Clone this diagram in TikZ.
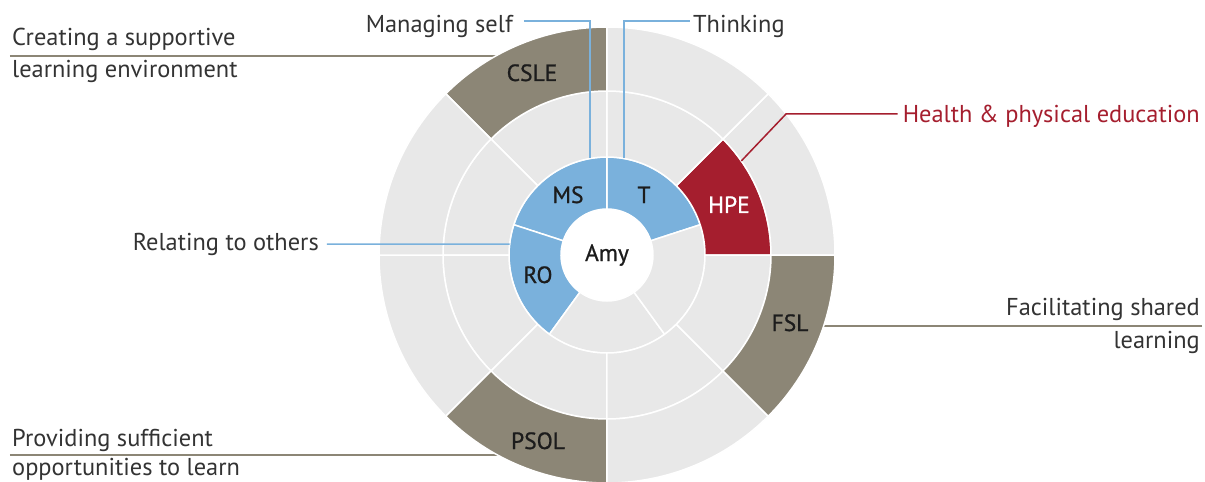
\documentclass[tikz,border=0pt]{standalone}
\usepackage{fontspec}
\setmainfont{PT Sans}
\newfontfamily\segfont{PT Sans}[FakeBold=0.8]

\definecolor{segblue}{RGB}{122,177,220}
\definecolor{seggray}{RGB}{232,232,232}
\definecolor{segtaupe}{RGB}{140,134,118}
\definecolor{segred}{RGB}{165,30,46}
\definecolor{inktext}{RGB}{51,51,51}
\definecolor{inklabel}{RGB}{28,28,28}

\tikzset{
  gapline/.style={draw=white, line width=1.5pt},
  caption/.style={font=\fontsize{24.4}{28}\selectfont, text=inktext, inner sep=0pt},
  seglabel/.style={font=\segfont\fontsize{23.5}{28}\selectfont, text=inklabel, inner sep=0pt, anchor=base},
  taupeline/.style={draw=segtaupe, line width=2pt},
  blueline/.style={draw=segblue, line width=1.5pt},
  redline/.style={draw=segred, line width=1.5pt},
}

% annular sector: start angle, end angle, inner radius, outer radius, fill colour
\newcommand{\ringpart}[5]{%
  \filldraw[fill=#5, gapline] (#1:#3) arc[start angle=#1, end angle=#2, radius=#3]
    -- (#2:#4) arc[start angle=#2, end angle=#1, radius=#4] -- cycle;}

\begin{document}
\begin{tikzpicture}[x=1pt, y=1pt]
\useasboundingbox (-607,-227) rectangle (598,255);

% caption texts
\node[caption, anchor=base east] (msname) at (-94,222) {Managing self};
\node[caption, anchor=base west] (thname) at (86,222) {Thinking};
\node[caption, anchor=base east] (roname) at (-288,5) {Relating to others};
\node[caption, anchor=base east, text=segred] (hpename) at (593,132) {Health \& physical education};
\node[caption, anchor=base west] (cs1) at (-595,209) {Creating a supportive};
\node[caption, anchor=base west] (cs2) at (-595,177) {learning environment};
\node[caption, anchor=base east] (fs1) at (593,-60) {Facilitating shared};
\node[caption, anchor=base east] (fs2) at (593,-93) {learning};
\node[caption, anchor=base west] (ps1) at (-595,-191) {Providing sufficient};
\node[caption, anchor=base west] (ps2) at (-595,-220.5) {opportunities to learn};

% anchor points on the rings
\coordinate (csleIn) at (-80,199);
\coordinate (fslIn) at (200,-71);
\coordinate (psolIn) at (-90,-200);
\coordinate (msTop) at (100:98);
\coordinate (tTop) at (80:98);
\coordinate (roEdge) at (173.6:98);
\coordinate (hpeEdge) at (35:164);
\coordinate (hpeKnee) at (179,141);

% leaders that run under the outer ring
\draw[taupeline] ([xshift=-2pt,yshift=-10pt]cs1.base west) -- (csleIn);
\draw[taupeline] ([xshift=2pt,yshift=-11pt]fs1.base east) -- (fslIn);
\draw[taupeline] ([xshift=-2pt,yshift=-9pt]ps1.base west) -- (psolIn);

% inner ring: key competencies
\ringpart{18}{90}{46}{98}{segblue}
\ringpart{90}{162}{46}{98}{segblue}
\ringpart{162}{234}{46}{98}{segblue}
\ringpart{234}{306}{46}{98}{seggray}
\ringpart{306}{378}{46}{98}{seggray}

% middle ring: learning areas
\ringpart{0}{45}{98}{164}{segred}
\foreach \a in {45,90,...,315} {\ringpart{\a}{\a+45}{98}{164}{seggray}}

% outer ring: teaching practices
\foreach \a in {0,45,180,270} {\ringpart{\a}{\a+45}{164}{228}{seggray}}
\ringpart{90}{135}{164}{228}{segtaupe}
\ringpart{135}{180}{164}{228}{seggray}
\ringpart{225}{270}{164}{228}{segtaupe}
\ringpart{315}{360}{164}{228}{segtaupe}

% leaders drawn over the rings
\draw[blueline] ([xshift=11pt,yshift=12pt]msname.base east) -| (msTop);
\draw[blueline] ([xshift=-3pt,yshift=12pt]thname.base west) -| (tTop);
\draw[blueline] ([xshift=8pt,yshift=6pt]roname.base east) -- (roEdge);
\path (hpeKnee -| hpename.west) coordinate (hpeTail);
\draw[redline] (hpeEdge) -- (hpeKnee) -- ([xshift=-5pt]hpeTail);

% segment labels
\node[seglabel] (ms) at (-39,52) {MS};
\node[seglabel] (t) at (37,52) {T};
\node[seglabel, text=white] (hpe) at (122,42) {HPE};
\node[seglabel] (ro) at (-69,-28) {RO};
\node[seglabel] (amy) at (0,-6) {Amy};
\node[seglabel] (csle) at (-75,174) {CSLE};
\node[seglabel] (fsl) at (183,-76) {FSL};
\node[seglabel] (psol) at (-69,-194) {PSOL};
\end{tikzpicture}
\end{document}
